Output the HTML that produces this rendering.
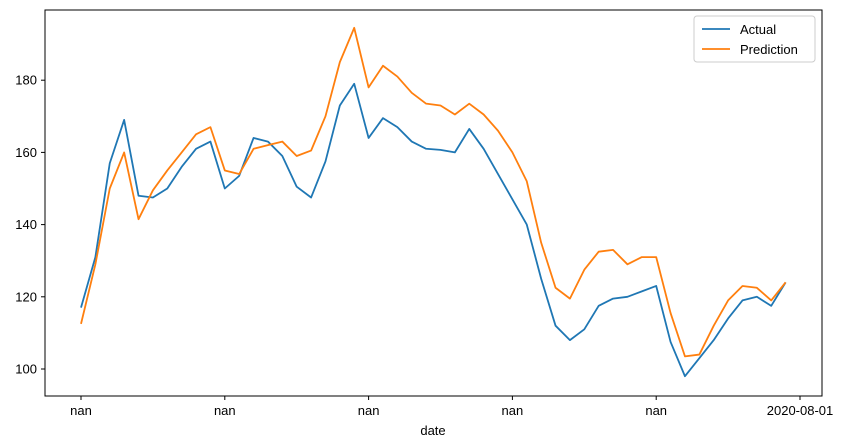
<!DOCTYPE html>
<html><head><meta charset="utf-8"><style>
body{margin:0;background:#fff;}
svg{display:block;font-family:"Liberation Sans","DejaVu Sans",sans-serif;}
</style></head><body>
<svg id="chart" width="850" height="448" viewBox="0 0 850 448">
<rect x="45" y="10" width="777" height="386" fill="#fff" stroke="#000" stroke-width="1"/>
<g id="ticks"></g>
<g id="lines"></g>
<text x="433" y="435" font-size="13" text-anchor="middle">date</text>
<g>
<rect x="694" y="16" width="121" height="46" rx="3" fill="#fff" stroke="#ccc"/>
<line x1="702" y1="29" x2="730" y2="29" stroke="#1f77b4" stroke-width="1.8"/>
<text x="740" y="34" font-size="13">Actual</text>
<line x1="702" y1="49" x2="730" y2="49" stroke="#ff7f0e" stroke-width="1.8"/>
<text x="740" y="54" font-size="13">Prediction</text>
</g>
</svg>
<script>
const actual=[117,131,157,169,148,147.5,150,156,161,163,150,153.5,164,163,159,150.5,147.5,157.5,173,179,164,169.5,167,163,161,160.7,160,166.5,161,154,147,140,125,112,108,111,117.5,119.5,120,121.5,123,107.5,98,103,108,114,119,120,117.5,124];
const prediction=[112.5,129,150,160,141.5,149.5,155,160,165,167,155,154,161,162,163,159,160.5,170,185,194.5,178,184,181,176.5,173.5,173,170.5,173.5,170.5,166,160,152,135,122.5,119.5,127.5,132.5,133,129,131,131,115.5,103.5,104,112,119,123,122.5,119,124];
const yTicks=[100,120,140,160,180];
const xTickIdx=[0,10,20,30,40,50];
const xTickLabels=["nan","nan","nan","nan","nan","2020-08-01"];
const NS="http://www.w3.org/2000/svg";
function xs(i){return 81+i*14.38;}
function ys(v){return 369-(v-100)*3.61;}
const tg=document.getElementById('ticks');
function mk(t,a){const e=document.createElementNS(NS,t);for(const k in a)e.setAttribute(k,a[k]);return e;}
yTicks.forEach(v=>{
 const l=mk('line',{x1:41,x2:45,y1:ys(v),y2:ys(v),stroke:'#000'});
 
 
 tg.appendChild(l);
 const t=mk('text',{x:37,y:ys(v)+4.5,'font-size':13,'text-anchor':'end'});
 
 
 t.textContent=v;tg.appendChild(t);
});
xTickIdx.forEach((i,k)=>{
 const l=mk('line',{x1:xs(i),x2:xs(i),y1:396,y2:400,stroke:'#000'});
 
 
 tg.appendChild(l);
 const t=mk('text',{x:xs(i),y:415,'font-size':13,'text-anchor':'middle'});
 
 
 t.textContent=xTickLabels[k];tg.appendChild(t);
});
const lg=document.getElementById('lines');
[[actual,'#1f77b4','actual-line'],[prediction,'#ff7f0e','prediction-line']].forEach(([d,c,n])=>{
 const p=mk('polyline',{points:d.map((v,i)=>xs(i)+','+ys(v)).join(' '),fill:'none',stroke:c,'stroke-width':1.8,'stroke-linejoin':'round'});
 
 
 lg.appendChild(p);
});
</script>
</body></html>
